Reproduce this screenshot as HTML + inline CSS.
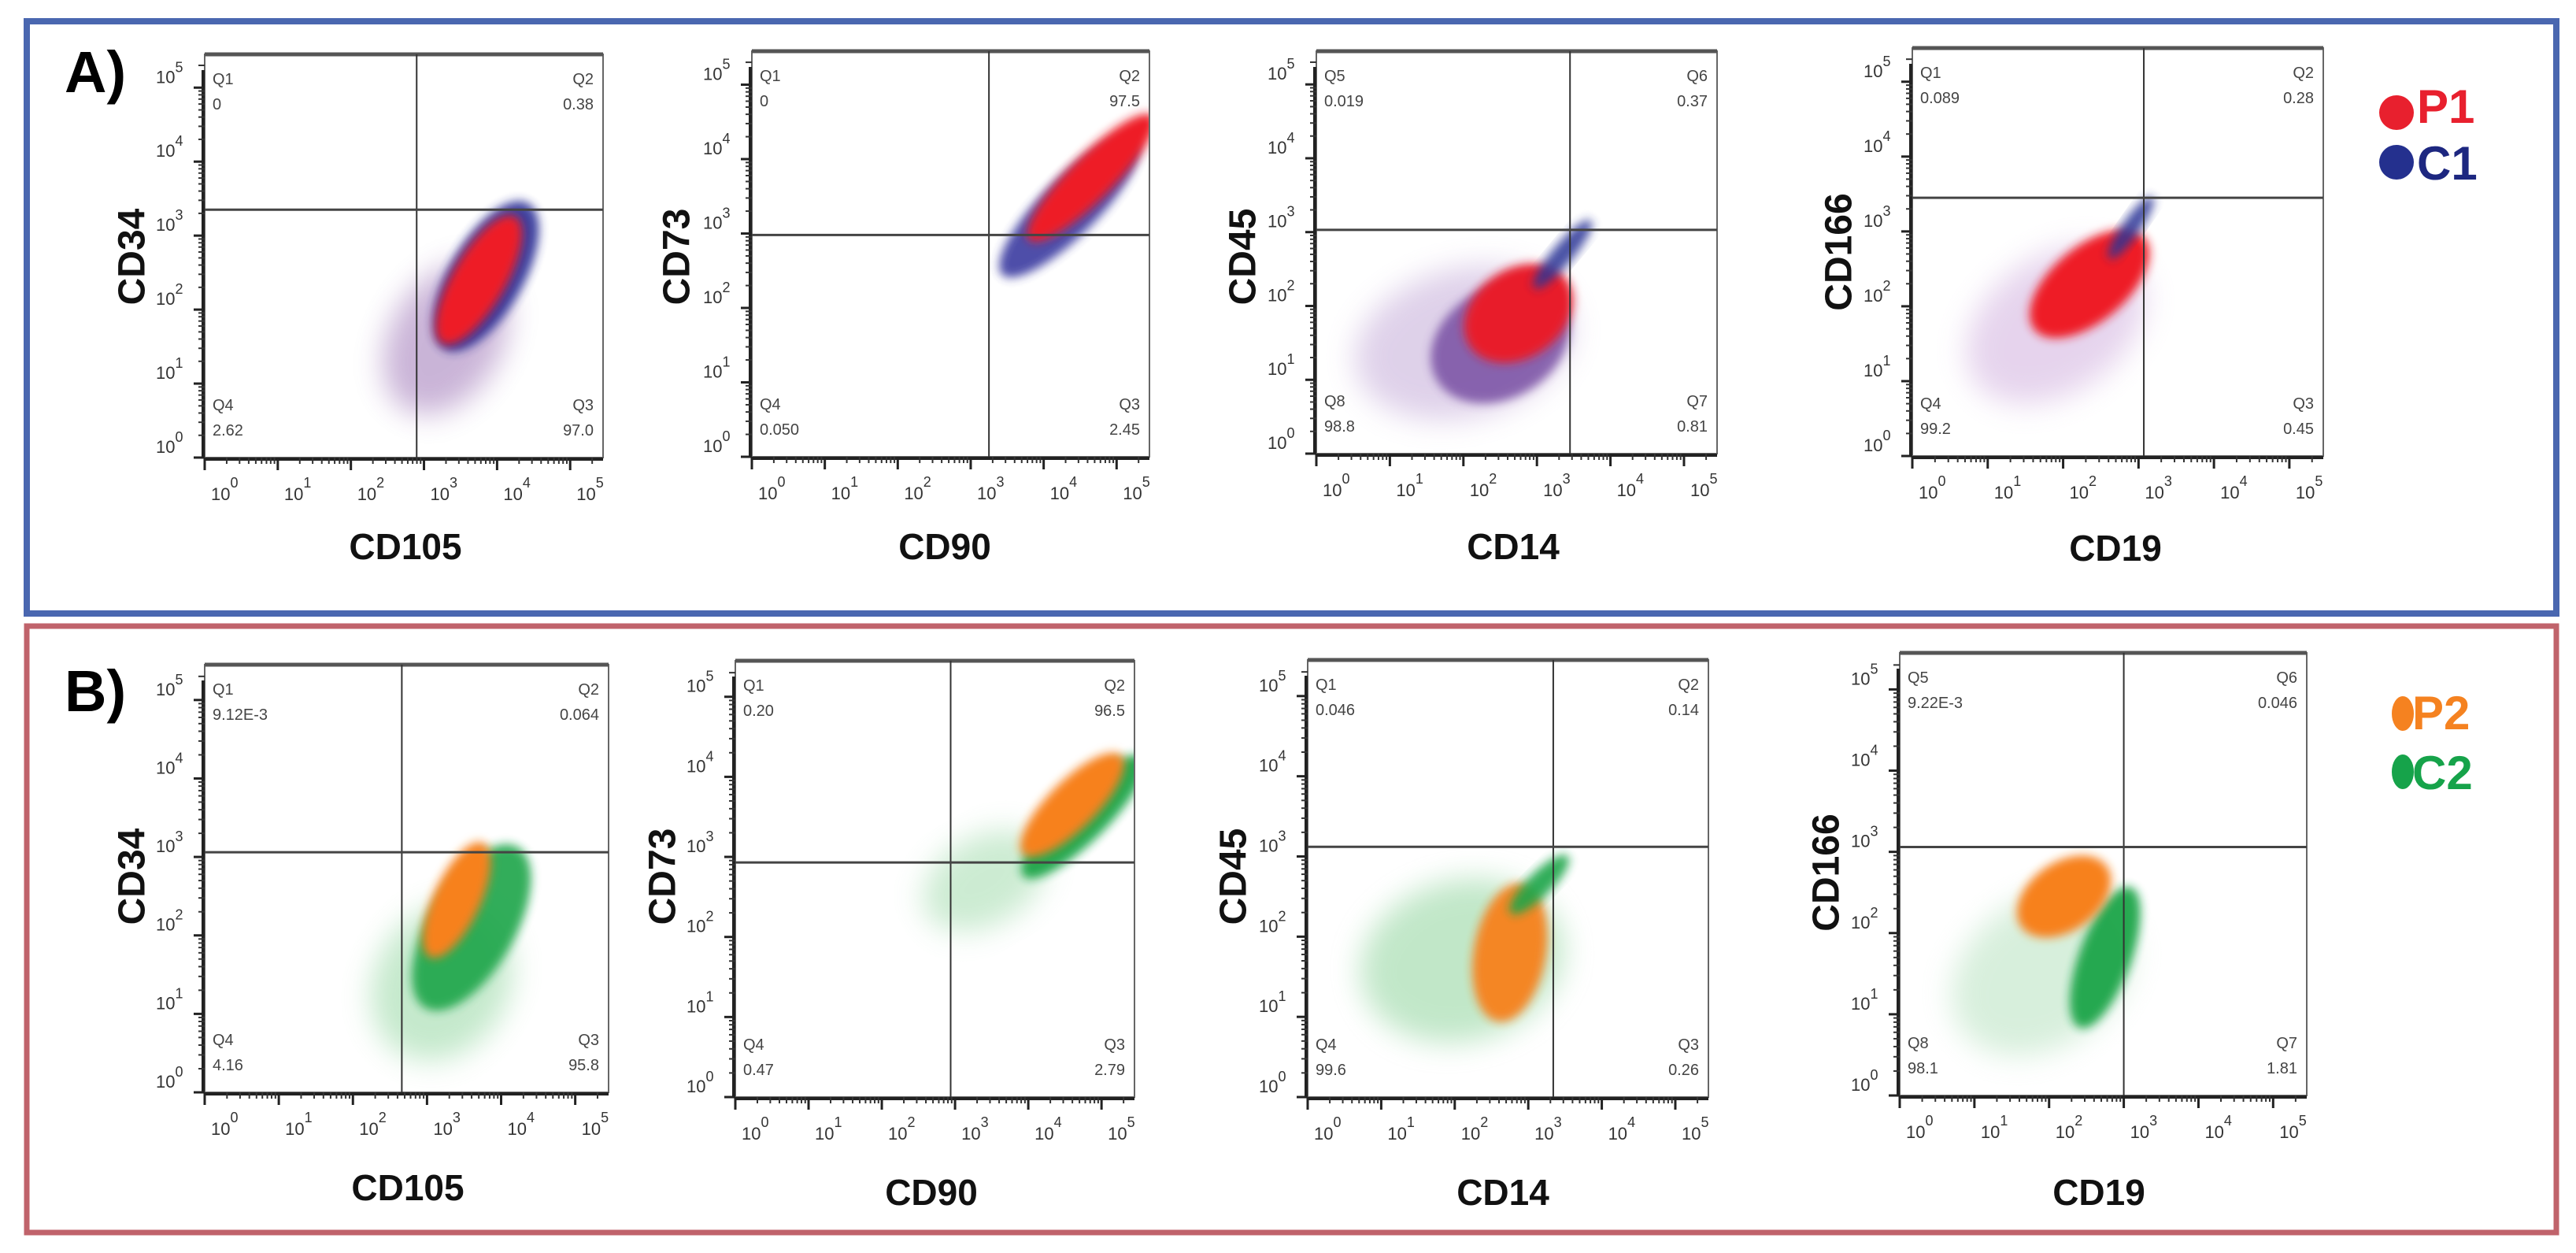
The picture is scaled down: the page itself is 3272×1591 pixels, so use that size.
<!DOCTYPE html>
<html>
<head>
<meta charset="utf-8">
<style>
html,body{margin:0;padding:0;background:#fff;}
body{width:3272px;height:1591px;overflow:hidden;}
svg{display:block;font-family:"Liberation Sans",Arial,sans-serif;}
</style>
</head>
<body>
<svg id="fig" width="3272" height="1591" viewBox="0 0 3272 1591" xmlns="http://www.w3.org/2000/svg">
  <defs>
    <filter id="soft" x="-30%" y="-30%" width="160%" height="160%"><feGaussianBlur stdDeviation="6"/></filter>
    <filter id="haze" x="-30%" y="-30%" width="160%" height="160%"><feGaussianBlur stdDeviation="18"/></filter>
  </defs>
  <rect x="34" y="27" width="3213" height="752" fill="none" stroke="#4a67b0" stroke-width="8"/>
  <rect x="34" y="795" width="3213" height="770" fill="none" stroke="#c0636b" stroke-width="7"/>
  <text x="82" y="117" font-size="74" font-weight="bold" fill="#000">A)</text>
  <text x="82" y="903" font-size="74" font-weight="bold" fill="#000">B)</text>
  <g>
    <circle cx="3044" cy="143" r="22" fill="#e8202e"/>
    <text x="3070" y="156" font-size="60" font-weight="bold" fill="#e8202e">P1</text>
    <circle cx="3044" cy="206" r="22" fill="#24308e"/>
    <text x="3070" y="228" font-size="60" font-weight="bold" fill="#1d2780">C1</text>
  </g>
  <g>
    <ellipse cx="3052" cy="906" rx="14" ry="22" fill="#f58220"/>
    <text x="3064" y="926" font-size="60" font-weight="bold" fill="#f58220">P2</text>
    <ellipse cx="3052" cy="980" rx="14" ry="22" fill="#16a34a"/>
    <text x="3064" y="1002" font-size="60" font-weight="bold" fill="#16a34a">C2</text>
  </g>
  <g id="plots"></g>
</svg>
<script>
// ---- data (log10 units) ----
const xLabels = ["CD105","CD90","CD14","CD19","CD105","CD90","CD14","CD19"];
const yLabels = ["CD34","CD73","CD45","CD166","CD34","CD73","CD45","CD166"];
const gateX = [2.9, 3.25, 3.45, 3.07, 2.66, 2.94, 3.34, 3.0];
const gateY = [3.35, 2.98, 3.03, 3.45, 3.06, 2.93, 3.12, 3.06];
const quadNames = [["Q1","Q2","Q3","Q4"],["Q1","Q2","Q3","Q4"],["Q5","Q6","Q7","Q8"],["Q1","Q2","Q3","Q4"],
                   ["Q1","Q2","Q3","Q4"],["Q1","Q2","Q3","Q4"],["Q1","Q2","Q3","Q4"],["Q5","Q6","Q7","Q8"]];
const quadValues = [["0","0.38","97.0","2.62"],["0","97.5","2.45","0.050"],["0.019","0.37","0.81","98.8"],["0.089","0.28","0.45","99.2"],
                    ["9.12E-3","0.064","95.8","4.16"],["0.20","96.5","2.79","0.47"],["0.046","0.14","0.26","99.6"],["9.22E-3","0.046","1.81","98.1"]];
const tickValues = [0,1,2,3,4,5];
// clusters: plot index, centre (log), major/minor half-axes (decades), angle, colour, opacity
const clusterPlot  = [0,0,0, 1,1, 2,2,2,2, 3,3,3, 4,4,4, 5,5,5, 6,6,6, 7,7,7];
const clusterX     = [3.3,3.85,3.75, 4.35,4.65, 2.0,2.5,2.75,3.35, 1.9,2.35,2.9, 3.2,3.6,3.4, 3.4,4.75,4.6, 2.1,2.75,3.15, 1.9,2.75,2.2];
const clusterY     = [1.6,2.45,2.4, 3.35,3.75, 1.5,1.5,1.9,2.7, 1.75,2.3,3.05, 1.4,2.1,2.45, 2.7,3.5,3.65, 1.7,1.8,2.65, 1.5,1.7,2.45];
const clusterMajor = [1.1,1.15,1.0, 1.3,1.2, 1.5,1.0,0.8,0.6, 1.3,0.95,0.5, 1.1,1.25,0.85, 0.9,1.15,0.95, 1.4,0.95,0.55, 1.3,1.0,0.7];
const clusterMinor = [0.75,0.5,0.36, 0.38,0.3, 1.0,0.75,0.6,0.14, 0.9,0.5,0.12, 0.85,0.55,0.3, 0.55,0.3,0.3, 1.0,0.45,0.15, 0.9,0.32,0.42];
const clusterAngle = [-60,-60,-60, -45,-45, -15,-30,-35,-50, -35,-40,-55, -60,-60,-65, -30,-45,-45, -15,-80,-45, -35,-70,-35];
const clusterColor = ["#8a5aa8","#2a2f95","#ee1c25", "#3a3aa0","#ee1c25", "#b89ad0","#6a3c9a","#e81a2a","#2c3596", "#c8a0d8","#ee1c25","#2c3596",
                      "#7fcf8f","#1aa548","#f7811e", "#8fd49c","#1aa548","#f7811e", "#8fd49c","#f7811e","#1aa548", "#a8dcb2","#1aa548","#f7811e"];
const clusterOpacity = [0.45,0.9,1, 0.9,1, 0.45,0.75,1,0.85, 0.45,1,0.85, 0.45,0.9,1, 0.45,0.95,1, 0.55,0.95,0.9, 0.45,0.95,1];

// ---- layout ----
const frames = [
  {l:260,r:766,t:69,b:581,xl:515,xly:710,yl:168,yly:326},
  {l:955,r:1460,t:65,b:580,xl:1200,xly:710,yl:860,yly:326},
  {l:1672,r:2181,t:65,b:576,xl:1922,xly:710,yl:1579,yly:326},
  {l:2429,r:2951,t:61,b:579,xl:2687,xly:712,yl:2336,yly:320},
  {l:260,r:773,t:844,b:1387,xl:518,xly:1524,yl:168,yly:1113},
  {l:934,r:1441,t:839,b:1393,xl:1183,xly:1530,yl:842,yly:1113},
  {l:1661,r:2170,t:838,b:1393,xl:1909,xly:1530,yl:1567,yly:1113},
  {l:2413,r:2930,t:829,b:1391,xl:2666,xly:1530,yl:2320,yly:1108}
];
const MAXLOG = 5.45;
const NS = "http://www.w3.org/2000/svg";
const root = document.getElementById("plots");
function mk(tag, attrs, parent){
  const e = document.createElementNS(NS, tag);
  for (const k in attrs) e.setAttribute(k, attrs[k]);
  parent.appendChild(e);
  return e;
}
function sx(f, v){ return f.l + (f.r - f.l) * v / MAXLOG; }
function sy(f, v){ return f.b - (f.b - f.t) * v / MAXLOG; }

frames.forEach((f, i) => {
  const g = mk("g", {}, root);
  
  
  const cid = "clip" + i;
  const cp = mk("clipPath", {id: cid}, g);
  mk("rect", {x: f.l, y: f.t, width: f.r - f.l, height: f.b - f.t}, cp);
  const cg = mk("g", {"clip-path": "url(#" + cid + ")"}, g);
  
  
  const dx = (f.r - f.l) / MAXLOG, dy = (f.b - f.t) / MAXLOG;
  for (let c = 0; c < clusterPlot.length; c++) {
    if (clusterPlot[c] !== i) continue;
    const cx = sx(f, clusterX[c]), cy = sy(f, clusterY[c]);
    const isHaze = clusterOpacity[c] < 0.6;
    const el = mk("ellipse", {
      cx: cx, cy: cy, rx: clusterMajor[c] * dx, ry: clusterMinor[c] * dy,
      transform: "rotate(" + clusterAngle[c] + " " + cx + " " + cy + ")",
      fill: clusterColor[c], opacity: clusterOpacity[c],
      filter: isHaze ? "url(#haze)" : "url(#soft)"
    }, cg);
    
    
  }
  const fr = mk("rect", {x: f.l, y: f.t, width: f.r - f.l, height: f.b - f.t, fill: "none", stroke: "#666", "stroke-width": 2}, g);
  
  
  mk("line", {x1: f.l, y1: f.t, x2: f.r, y2: f.t, stroke: "#555", "stroke-width": 5}, g);
  const gv = mk("line", {x1: sx(f, gateX[i]), y1: f.t, x2: sx(f, gateX[i]), y2: f.b, stroke: "#333", "stroke-width": 2}, g);
  
  
  const gh = mk("line", {x1: f.l, y1: sy(f, gateY[i]), x2: f.r, y2: sy(f, gateY[i]), stroke: "#444", "stroke-width": 3}, g);
  
  
  const xa = mk("g", {}, g);
  
  
  mk("line", {x1: f.l, y1: f.b + 2, x2: f.r, y2: f.b + 2, stroke: "#222", "stroke-width": 4}, xa);
  const ya = mk("g", {}, g);
  
  
  mk("line", {x1: f.l - 2, y1: f.t + 20, x2: f.l - 2, y2: f.b, stroke: "#222", "stroke-width": 4}, ya);
  tickValues.forEach(t => {
    const x = sx(f, t), y = sy(f, t);
    mk("line", {x1: x, y1: f.b, x2: x, y2: f.b + 16, stroke: "#222", "stroke-width": 3}, xa);
    mk("line", {x1: f.l - 14, y1: y, x2: f.l, y2: y, stroke: "#222", "stroke-width": 3}, ya);
    for (let m = 2; m <= 9; m++) {
      const lv = t + Math.log10(m);
      if (lv < MAXLOG) {
        mk("line", {x1: sx(f, lv), y1: f.b, x2: sx(f, lv), y2: f.b + 8, stroke: "#333", "stroke-width": 2}, xa);
        mk("line", {x1: f.l - 8, y1: sy(f, lv), x2: f.l, y2: sy(f, lv), stroke: "#333", "stroke-width": 2}, ya);
      }
    }
    const xt = mk("text", {x: x + 8, y: f.b + 54, "font-size": 22, fill: "#333"}, xa);
    
    
    xt.innerHTML = '10<tspan dy="-16" font-size="18">' + t + '</tspan>';
    const yt = mk("text", {x: f.l - 62, y: y - 6, "font-size": 22, fill: "#333"}, ya);
    
    
    yt.innerHTML = '10<tspan dy="-14" font-size="18">' + t + '</tspan>';
  });
  const qn = quadNames[i], qv = quadValues[i];
  const spots = [[f.l + 10, f.t + 38, "start"], [f.r - 12, f.t + 38, "end"], [f.r - 12, f.b - 60, "end"], [f.l + 10, f.b - 60, "start"]];
  spots.forEach((s, k) => {
    const n = mk("text", {x: s[0], y: s[1], "font-size": 20, fill: "#444", "text-anchor": s[2]}, g);
    
    
    n.textContent = qn[k];
    const v = mk("text", {x: s[0], y: s[1] + 32, "font-size": 20, fill: "#444", "text-anchor": s[2]}, g);
    
    
    v.textContent = qv[k];
  });
  const xt = mk("text", {x: f.xl, y: f.xly, "font-size": 46, "font-weight": "bold", "text-anchor": "middle", fill: "#111"}, g);
  
  
  xt.textContent = xLabels[i];
  const yt = mk("text", {x: f.yl, y: f.yly, "font-size": 48, "font-weight": "bold", "text-anchor": "middle", fill: "#111",
    transform: "rotate(-90 " + f.yl + " " + f.yly + ")", "dominant-baseline": "central"}, g);
  
  
  yt.textContent = yLabels[i];
});
</script>
</body>
</html>
